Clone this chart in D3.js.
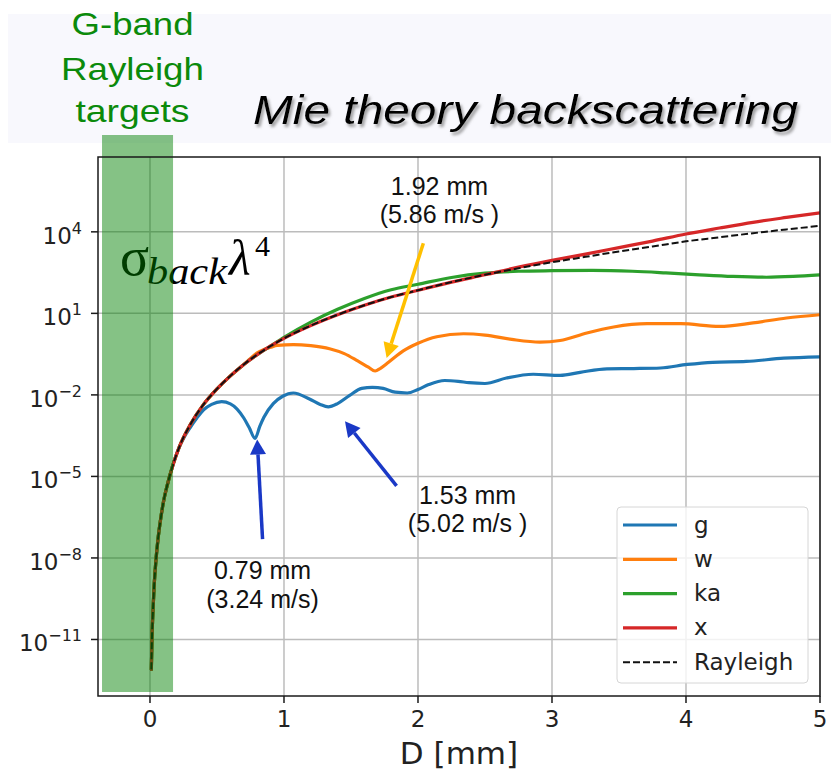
<!DOCTYPE html>
<html lang="en">
<head>
<meta charset="UTF-8">
<title>Mie theory backscattering</title>
<script src="https://cdn.jsdelivr.net/npm/d3@7"></script>
<style>
  body { margin: 0; background: #fff; }
  svg { display: block; }
</style>
</head>
<body>
<svg id="mainsvg" width="831" height="770"></svg>
<script>
// ---- data (D in mm, values as log10 of sigma_back * lambda^4) ----
const rayD = [0.01, 0.015, 0.02, 0.03, 0.045, 0.06, 0.08, 0.1, 0.13, 0.17, 0.22, 0.3, 0.4, 0.5, 0.6, 0.7, 0.8, 0.9,
              1.0, 1.2, 1.4, 1.6, 1.8, 2.0, 2.25, 2.5, 2.75, 3.0, 3.25, 3.5, 3.75, 4.0, 4.25, 4.5, 4.75, 5.0];
const rayV = [-12.1, -10.9, -10.2, -9.1, -8.05, -7.3, -6.55, -5.95, -5.3, -4.6, -3.9, -3.1, -2.35, -1.78, -1.3, -0.88, -0.52, -0.2,
              0.08, 0.55, 0.95, 1.3, 1.6, 1.85, 2.15, 2.42, 2.66, 2.88, 3.08, 3.28, 3.46, 3.65, 3.8, 3.95, 4.09, 4.22];

// tails of each band after it leaves the Rayleigh curve
const xD = [2.75, 3.0, 3.25, 3.5, 3.75, 4.0, 4.25, 4.5, 4.75, 5.0];
const xV = [2.7, 2.95, 3.18, 3.42, 3.66, 3.92, 4.14, 4.35, 4.53, 4.7];

const kaD = [1.0, 1.2, 1.4, 1.6, 1.8, 2.0, 2.25, 2.5, 2.75, 3.0, 3.3, 3.6, 3.85, 4.1, 4.35, 4.6, 4.8, 5.0];
const kaV = [0.12, 0.68, 1.15, 1.55, 1.87, 2.07, 2.32, 2.48, 2.55, 2.57, 2.58, 2.55, 2.49, 2.42, 2.36, 2.33, 2.36, 2.42];

const wD = [0.75, 0.8, 0.85, 0.9, 0.95, 1.07, 1.2, 1.34, 1.45, 1.55, 1.63, 1.68, 1.72, 1.78, 1.89, 2.0, 2.14, 2.34, 2.5,
            2.7, 2.91, 3.06, 3.26, 3.46, 3.71, 3.96, 4.25, 4.5, 4.75, 5.0];
const wV = [-0.66, -0.45, -0.33, -0.25, -0.18, -0.15, -0.19, -0.3, -0.48, -0.75, -0.98, -1.12, -1.02, -0.8, -0.38, -0.1, 0.14, 0.25, 0.2,
            0.04, -0.06, 0.0, 0.28, 0.5, 0.62, 0.62, 0.52, 0.65, 0.83, 0.95];

const gD = [0.25, 0.3, 0.35, 0.4, 0.46, 0.535, 0.6, 0.65, 0.7, 0.74, 0.784, 0.82, 0.85, 0.92, 0.99, 1.07, 1.19, 1.27, 1.33,
            1.4, 1.49, 1.58, 1.66, 1.74, 1.83, 1.92, 2.0, 2.08, 2.2, 2.3, 2.38, 2.5, 2.66, 2.86, 3.06, 3.21, 3.41, 3.61,
            3.81, 4.01, 4.2, 4.45, 4.73, 5.0];
const gV = [-3.6, -3.2, -2.85, -2.55, -2.35, -2.25, -2.33, -2.52, -2.85, -3.2, -3.6, -3.15, -2.82, -2.32, -2.05, -1.93, -2.15, -2.35, -2.44,
            -2.32, -2.02, -1.76, -1.72, -1.76, -1.9, -1.93, -1.8, -1.62, -1.47, -1.5, -1.55, -1.58, -1.38, -1.24, -1.28, -1.17, -1.04, -1.03,
            -1.01, -0.88, -0.8, -0.77, -0.65, -0.6];

const seriesNames = ["g", "w", "ka", "x", "Rayleigh"];
const seriesColors = ["#1f77b4", "#ff7f0e", "#2ca02c", "#d62728", "#111111"];

const xTicks = [0, 1, 2, 3, 4, 5];
const yTickExp = [-11, -8, -5, -2, 1, 4];

// ---- helpers ----
const pairs = (D, V) => D.map((d, i) => [d, V[i]]);
const rayPts = pairs(rayD, rayV);
// band = Rayleigh part below the first own sample + own samples
const band = (D, V) => rayPts.filter(p => p[0] < D[0]).concat(pairs(D, V));

const lines = [band(gD, gV), band(wD, wV), band(kaD, kaV), band(xD, xV), rayPts];

const svg = d3.select("#mainsvg");
const margin = {top: 157, right: 11, bottom: 74, left: 98};
const W = +svg.attr("width"), H = +svg.attr("height");

const xScale = d3.scaleLinear().domain([-0.388, 5]).range([margin.left, W - margin.right]);
const yScale = d3.scaleLog().domain([Math.pow(10, -13.08), Math.pow(10, 6.754)]).range([H - margin.bottom, margin.top]);
const Y = v => yScale(Math.pow(10, v));

const x0 = margin.left, x1 = W - margin.right, y0 = margin.top, y1 = H - margin.bottom;

// title band background
svg.append("rect").attr("x", 8).attr("y", 14).attr("width", W - 8).attr("height", 129).attr("fill", "#f8f8fd");

const defs = svg.append("defs");
const shadow = defs.append("filter").attr("id", "shadow").attr("x", "-5%").attr("y", "-20%").attr("width", "110%").attr("height", "150%");
shadow.append("feDropShadow").attr("dx", 2).attr("dy", 3).attr("stdDeviation", 1.6)
  .attr("flood-color", "#777").attr("flood-opacity", 0.7);
defs.append("clipPath").attr("id", "plotclip").append("rect")
  .attr("x", x0).attr("y", y0).attr("width", x1 - x0).attr("height", y1 - y0);

svg.append("text").text("Mie theory backscattering")
  .attr("x", 253).attr("y", 124)
  .attr("font-family", "Liberation Sans, Arial, sans-serif").attr("font-style", "italic")
  .attr("font-size", 40).attr("textLength", 545).attr("lengthAdjust", "spacingAndGlyphs")
  .attr("fill", "#000").attr("filter", "url(#shadow)");

const green = [["G-band", 35, 122], ["Rayleigh", 80, 143], ["targets", 122, 114]];
green.forEach(([t, yy, len]) => {
  svg.append("text").text(t)
    .attr("x", 132.5 - len / 2).attr("y", yy)
    .attr("font-family", "Liberation Sans, Arial, sans-serif").attr("font-size", 32)
    .attr("textLength", len).attr("lengthAdjust", "spacingAndGlyphs")
    .attr("fill", "#0b8a0b");
});

// plot background + grid
svg.append("rect").attr("x", x0).attr("y", y0).attr("width", x1 - x0).attr("height", y1 - y0).attr("fill", "#fff");
const grid = svg.append("g").attr("stroke", "#bcbcbc").attr("stroke-width", 1.5);
xTicks.forEach(t => grid.append("line").attr("x1", xScale(t)).attr("x2", xScale(t)).attr("y1", y0).attr("y2", y1));
yTickExp.forEach(e => grid.append("line").attr("x1", x0).attr("x2", x1).attr("y1", Y(e)).attr("y2", Y(e)));

// sigma_back lambda^4 label (under the green span)
const lab = svg.append("g").attr("font-family", "Liberation Serif, DejaVu Serif, serif").attr("fill", "#000");
lab.append("text").text("σ").attr("x", 120).attr("y", 275).attr("font-size", 54);
lab.append("text").text("back").attr("x", 147).attr("y", 284).attr("font-size", 37).attr("font-style", "italic")
  .attr("textLength", 80).attr("lengthAdjust", "spacingAndGlyphs");
lab.append("text").text("λ").attr("x", 229).attr("y", 275).attr("font-size", 50).attr("font-style", "italic");
lab.append("text").text("4").attr("x", 255).attr("y", 256).attr("font-size", 30);

// curves
const line = d3.line().x(d => xScale(d[0])).y(d => Y(d[1])).curve(d3.curveMonotoneX);
const curves = svg.append("g").attr("clip-path", "url(#plotclip)");
lines.forEach((pts, i) => {
  const dashed = seriesNames[i] === "Rayleigh";
  curves.append("path").attr("d", line(pts)).attr("fill", "none")
    .attr("stroke", seriesColors[i]).attr("stroke-width", dashed ? 2 : 3.2)
    .attr("stroke-dasharray", dashed ? "7,3" : null)
    .attr("stroke-linejoin", "round").attr("stroke-linecap", dashed ? "butt" : "round");
});

// green span (drawn over the label and curves, half transparent)
const spanD = [-0.358, 0.172];
svg.append("rect").attr("x", xScale(spanD[0])).attr("y", 135)
  .attr("width", xScale(spanD[1]) - xScale(spanD[0])).attr("height", 692 - 135)
  .attr("fill", "green").attr("opacity", 0.48);

// frame
svg.append("rect").attr("x", x0).attr("y", y0).attr("width", x1 - x0).attr("height", y1 - y0)
  .attr("fill", "none").attr("stroke", "#1a1a1a").attr("stroke-width", 1.5);

// axes ticks
const axisFont = "DejaVu Sans, sans-serif";
const ax = svg.append("g").attr("font-family", axisFont).attr("fill", "#222");
xTicks.forEach(t => {
  ax.append("line").attr("x1", xScale(t)).attr("x2", xScale(t)).attr("y1", y1).attr("y2", y1 + 7)
    .attr("stroke", "#1a1a1a").attr("stroke-width", 1.5);
  ax.append("text").text(t).attr("x", xScale(t)).attr("y", 727).attr("text-anchor", "middle").attr("font-size", 23);
});
yTickExp.forEach(e => {
  ax.append("line").attr("x1", x0 - 7).attr("x2", x0).attr("y1", Y(e)).attr("y2", Y(e))
    .attr("stroke", "#1a1a1a").attr("stroke-width", 1.5);
  const t = ax.append("text").attr("x", 82).attr("y", Y(e) + 12).attr("text-anchor", "end").attr("font-size", 23);
  t.append("tspan").text("10");
  t.append("tspan").text(String(e).replace("-", "\u2212")).attr("font-size", 16).attr("dy", -10);
});
ax.append("text").text("D [mm]").attr("x", (x0 + x1) / 2).attr("y", 764).attr("text-anchor", "middle").attr("font-size", 31);

// legend
const leg = svg.append("g");
leg.append("rect").attr("x", 617).attr("y", 507).attr("width", 191).attr("height", 176).attr("rx", 4)
  .attr("fill", "#fff").attr("fill-opacity", 0.8).attr("stroke", "#d6d6d6").attr("stroke-width", 1);
seriesNames.forEach((n, i) => {
  const yy = 525 + i * 34.3;
  const dashed = n === "Rayleigh";
  leg.append("line").attr("x1", 623).attr("x2", 677).attr("y1", yy).attr("y2", yy)
    .attr("stroke", seriesColors[i]).attr("stroke-width", dashed ? 2 : 3.2)
    .attr("stroke-dasharray", dashed ? "7,3" : null);
  leg.append("text").text(n).attr("x", 694).attr("y", yy + 7.5)
    .attr("font-family", axisFont).attr("font-size", 23).attr("fill", "#222");
});

// annotations: arrows [tailD, tailV, tipD, tipV, colour]
const arrows = [
  [0.84, -7.31, 0.80, -3.64, "#1a38c6"],
  [1.84, -5.35, 1.455, -2.97, "#1a38c6"],
  [2.04, 3.58, 1.766, -0.64, "#ffc000"]
];
arrows.forEach(([td, tv, hd, hv, c]) => {
  const ax0 = xScale(td), ay0 = Y(tv), ax1 = xScale(hd), ay1 = Y(hv);
  const ang = Math.atan2(ay1 - ay0, ax1 - ax0);
  const hl = 15, hw = 8;
  const bx = ax1 - hl * Math.cos(ang), by = ay1 - hl * Math.sin(ang);
  svg.append("line").attr("x1", ax0).attr("y1", ay0).attr("x2", bx).attr("y2", by)
    .attr("stroke", c).attr("stroke-width", 3.5);
  const px = -Math.sin(ang), py = Math.cos(ang);
  svg.append("polygon").attr("points",
    [[ax1, ay1], [bx + hw * px, by + hw * py], [bx - hw * px, by - hw * py]].map(p => p.join(",")).join(" "))
    .attr("fill", c);
});

// annotation texts [D, log value of baseline, line1, line2]
const notes = [
  [0.84, -8.78, "0.79 mm", "(3.24 m/s)"],
  [2.37, -6.0, "1.53 mm", "(5.02 m/s )"],
  [2.16, 5.36, "1.92 mm", "(5.86 m/s )"]
];
notes.forEach(([d, v, l1, l2]) => {
  const t = svg.append("text").attr("x", xScale(d)).attr("y", Y(v)).attr("text-anchor", "middle")
    .attr("font-family", "Liberation Sans, Arial, sans-serif").attr("font-size", 25).attr("fill", "#111");
  t.append("tspan").text(l1).attr("x", xScale(d));
  t.append("tspan").text(l2).attr("x", xScale(d)).attr("dy", 28.5);
});
</script>
</body>
</html>
